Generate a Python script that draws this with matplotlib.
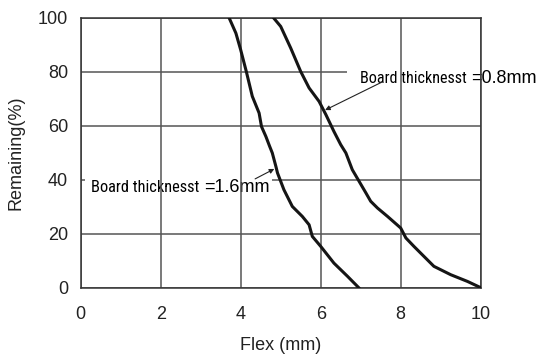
import numpy as np
import matplotlib
matplotlib.use("Agg")
import matplotlib.pyplot as plt

# Curve readings (flex in mm, remaining in %)
flex_16 = [3.71, 3.88, 4.00, 4.14, 4.29, 4.46, 4.52, 4.63, 4.72, 4.79, 4.88, 4.92,
           5.08, 5.29, 5.54, 5.71, 5.79, 6.00, 6.33, 6.67, 6.95]
rem_16 = [100, 94.3, 88.1, 80.1, 70.9, 64.7, 59.7, 56.0, 52.5, 49.9, 44.9, 42.5,
          36.3, 30.1, 26.4, 23.3, 19.0, 15.3, 9.1, 4.2, 0]

flex_08 = [4.82, 5.00, 5.25, 5.50, 5.71, 5.96, 6.13, 6.33, 6.50, 6.63, 6.79, 6.96,
           7.13, 7.25, 7.42, 7.67, 8.00, 8.13, 8.33, 8.58, 8.83, 9.25, 9.67, 10.0]
rem_08 = [100, 96.8, 88.8, 80.1, 74.0, 69.0, 64.1, 57.9, 53.0, 49.9, 43.7, 39.4,
          35.1, 32.0, 29.5, 26.4, 22.1, 18.4, 15.3, 11.6, 7.9, 4.8, 2.3, 0]

xticks = [0, 2, 4, 6, 8, 10]
yticks = [0, 20, 40, 60, 80, 100]

plt.rcParams['font.family'] = ['Liberation Sans', 'DejaVu Sans']
narrow = ['Liberation Sans Narrow', 'Roboto Condensed', 'Archivo Narrow',
          'Liberation Sans']

fig = plt.figure(figsize=(5.38, 3.56), dpi=100)
ax = fig.add_axes([0.150, 0.192, 0.7435, 0.758])

# grid: horizontal lines sit under the label boxes, vertical ones above
for y in yticks:
    ax.axhline(y, color='#555555', lw=1.1, zorder=0.5)
for x in xticks:
    ax.axvline(x, color='#555555', lw=1.1, zorder=2)

ax.plot(flex_16, rem_16, color='#151515', lw=2.2, zorder=3)
ax.plot(flex_08, rem_08, color='#151515', lw=2.2, zorder=3)

box = dict(boxstyle='square,pad=0.35', fc='white', ec='none')
tight = dict(boxstyle='square,pad=0.1', fc='white', ec='none')
arrow = dict(arrowstyle='-|>', color='#222222', lw=0.8,
             mutation_scale=7, shrinkA=0, shrinkB=0)

# label for 1.6 mm board
t1 = ax.text(0.26, 35.3, 'Board thicknesst', family=narrow, fontsize=11.8,
             va='baseline', ha='left', bbox=box, zorder=1.5)
ax.annotate('=1.6mm', xy=(1, 35.3), xycoords=(t1, 'data'), xytext=(3.5, 0),
            textcoords='offset points', fontsize=13, va='baseline',
            ha='left', bbox=tight, zorder=1.7)
ax.annotate('', xy=(4.84, 44.0), xytext=(4.36, 40.3), arrowprops=arrow,
            zorder=4)

# label for 0.8 mm board
t2 = ax.text(6.98, 75.7, 'Board thicknesst', family=narrow, fontsize=11.6,
             va='baseline', ha='left',
             bbox=dict(boxstyle='square,pad=0.8', fc='white', ec='none'),
             zorder=1.5, clip_on=False)
ax.annotate('=0.8mm', xy=(1, 75.7), xycoords=(t2, 'data'), xytext=(3, 0),
            textcoords='offset points', fontsize=13, va='baseline',
            ha='left', bbox=tight, zorder=1.7, annotation_clip=False)
ax.annotate('', xy=(6.11, 65.8), xytext=(7.52, 76.1), arrowprops=arrow,
            zorder=4)

ax.set_xlim(0, 10)
ax.set_ylim(0, 100)
ax.set_xticks(xticks)
ax.set_yticks(yticks)
ax.tick_params(length=0, labelsize=13, colors='#222222')
ax.tick_params(axis='x', pad=13)
ax.tick_params(axis='y', pad=9)
for s in ax.spines.values():
    s.set_color('#333333')
    s.set_linewidth(1.1)
    s.set_zorder(2)

ax.set_xlabel('Flex (mm)', fontsize=13, labelpad=10, color='#222222')
ax.set_ylabel('Remaining(%)', fontsize=13, labelpad=10, color='#222222')

fig.savefig('out.png', dpi=100)
